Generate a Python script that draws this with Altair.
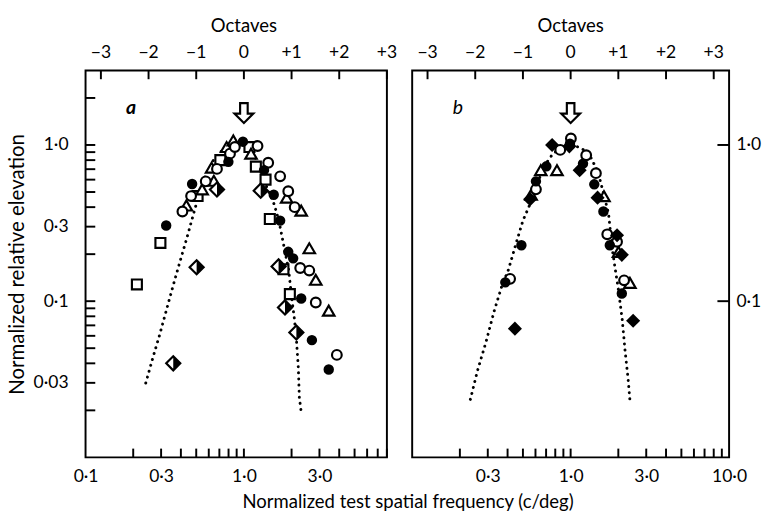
import altair as alt
import pandas as pd

FONT = "Lato"
WA, WB, H = 310, 326, 398
YDOM = [0.01, 3]
XDOM_A = [0.1, 8]
XDOM_B = [0.1, 10]

# ---------------- Panel a data ----------------
a_fc_x = [0.323, 0.471, 0.798, 0.986, 1.34, 1.543, 1.694, 1.906, 2.047, 2.301, 2.688, 3.434]
a_fc_y = [0.305, 0.563, 0.78, 1.05, 0.69, 0.48, 0.328, 0.207, 0.188, 0.104, 0.0563, 0.0365]
a_oc_x = [0.409, 0.464, 0.574, 0.676, 0.817, 0.877, 1.219, 1.424, 1.694, 1.906, 2.093, 2.268, 2.588, 2.844, 3.864]
a_oc_y = [0.375, 0.471, 0.585, 0.703, 0.88, 0.97, 0.985, 0.77, 0.63, 0.506, 0.40, 0.163, 0.157, 0.098, 0.0453]
a_ot_x = [0.433, 0.545, 0.646, 0.625, 0.778, 0.857, 1.109, 1.862, 2.301, 2.588, 2.844, 3.434]
a_ot_y = [0.41, 0.52, 0.59, 0.716, 0.97, 1.07, 0.88, 0.46, 0.38, 0.218, 0.137, 0.087]
a_sq_x = [0.211, 0.297, 0.51, 0.71, 1.084, 1.19, 1.37, 1.458, 1.777, 1.951]
a_sq_y = [0.128, 0.236, 0.471, 0.80, 0.97, 0.727, 0.60, 0.336, 0.16, 0.111]
a_hd_x = [0.503, 0.358, 0.676, 1.277, 1.656, 1.818, 2.144]
a_hd_y = [0.165, 0.040, 0.519, 0.51, 0.167, 0.0912, 0.063]
curve_a_x = [0.240, 0.265, 0.293, 0.323, 0.356, 0.394, 0.435, 0.480, 0.522, 0.576, 0.645, 0.743, 0.857, 1.0,
             1.1, 1.2, 1.345, 1.549, 1.663, 1.810, 1.916, 2.0, 2.084, 2.144, 2.207, 2.239, 2.301]
curve_a_y = [0.0299, 0.0428, 0.0604, 0.0866, 0.124, 0.178, 0.251, 0.360, 0.487, 0.649, 0.806, 0.944, 1.0, 1.0,
             0.95, 0.8, 0.585, 0.42, 0.328, 0.212, 0.159, 0.107, 0.077, 0.0577, 0.0373, 0.0242, 0.0195]

# ---------------- Panel b data ----------------
b_fc_x = [0.99, 1.197, 1.41, 1.61, 0.703, 0.604, 0.489, 0.387, 1.767, 2.104]
b_fc_y = [1.02, 0.76, 0.56, 0.375, 0.73, 0.585, 0.228, 0.132, 0.228, 0.112]
b_oc_x = [1.004, 0.86, 1.254, 1.444, 0.604, 0.415, 1.703, 1.963, 2.175]
b_oc_y = [1.1, 0.93, 0.86, 0.66, 0.52, 0.139, 0.268, 0.24, 0.136]
b_ot_x = [1.623, 0.82, 0.648, 0.563, 2.006, 2.367]
b_ot_y = [0.47, 0.69, 0.69, 0.48, 0.207, 0.131]
b_fd_x = [0.982, 0.764, 1.14, 1.479, 0.555, 0.445, 1.963, 2.104, 2.48]
b_fd_y = [0.98, 1.0, 0.69, 0.46, 0.45, 0.0667, 0.264, 0.198, 0.075]
curve_b_x = [0.233, 0.258, 0.293, 0.328, 0.367, 0.405, 0.453, 0.500, 0.601, 0.664, 0.764, 0.881, 1.0,
             1.12, 1.289, 1.485, 1.617, 1.735, 1.835, 1.915, 2.0, 2.114, 2.207, 2.301, 2.367]
curve_b_y = [0.0235, 0.0357, 0.0552, 0.0853, 0.124, 0.159, 0.235, 0.328, 0.506, 0.706, 0.865, 0.98, 1.0,
             0.97, 0.90, 0.676, 0.485, 0.363, 0.212, 0.159, 0.119, 0.077, 0.0478, 0.0323, 0.0232]

# ---------------- axes / ticks ----------------
octave_vals = [0.125, 0.25, 0.5, 1, 2, 4, 8]
octave_text = ["−3", "−2", "−1", "0", "+1", "+2", "+3"]
octave_title = ["Octaves"]
xticks_a = [0.2, 0.3, 0.4, 0.5, 0.6, 0.7, 0.8, 0.9, 1, 2, 3, 4, 5, 6, 7, 8]
xticks_b = [0.2, 0.3, 0.4, 0.5, 0.6, 0.7, 0.8, 0.9, 1, 2, 3, 4, 5, 6, 7, 8, 9]
xlabels_a = [0.1, 0.3, 1, 3]
xlabels_b = [0.3, 1, 3, 10]
yticks_a = [2, 1, 0.9, 0.8, 0.7, 0.6, 0.5, 0.4, 0.3, 0.2, 0.1, 0.09, 0.08, 0.07, 0.06, 0.05, 0.04, 0.03, 0.02]
ylabels_a = [1, 0.3, 0.1, 0.03]
yticks_b = [1, 0.1]
arrow_pos = [1.0]
arrow_val = [1.6]
label_pos_x = [0.194]
label_pos_y = [1.72]

ARROW = "M-0.38,-1L0.38,-1L0.38,0.05L0.95,0.05L0,1L-0.95,0.05L-0.38,0.05Z"
RIGHT_HALF = "M0,-1L1,0L0,1Z"

LBL = 18
ysc = alt.Scale(type="log", domain=YDOM, nice=False)

Y_LEFT = alt.Axis(orient="left", values=ylabels_a, title="Normalized relative elevation",
                  ticks=False, domain=False, grid=False, labelFlush=False,
                  labelOverlap=False,
                  labelExpr="replace(format(datum.value, datum.value < 0.1 ? '.2f' : '.1f'), '.', '·')",
                  labelFont=FONT, labelFontSize=LBL, labelColor="black", labelPadding=18,
                  titleFont=FONT, titleFontSize=21, titleFontWeight="normal",
                  titleColor="black", titlePadding=6)
Y_RIGHT = alt.Axis(orient="right", values=yticks_b, title=None, ticks=False,
                   domain=False, grid=False, labelFlush=False, labelOverlap=False,
                   labelExpr="replace(format(datum.value, '.1f'), '.', '·')",
                   labelFont=FONT, labelFontSize=LBL, labelColor="black", labelPadding=7)


def xaxis(xlabels):
    return alt.Axis(orient="bottom", values=xlabels, title=None, ticks=False,
                    domain=False, grid=False, labelFlush=False, labelOverlap=False,
                    labelExpr="replace(format(datum.value, '.1f'), '.', '·')",
                    labelFont=FONT, labelFontSize=LBL, labelColor="black", labelPadding=11)


class Panel:
    def __init__(self, dom, W, xlabels, yaxis):
        self.dom, self.W = dom, W
        self.xax = xaxis(xlabels)
        self.yax = yaxis

    def X(self, f="x"):
        return alt.X(f + ":Q", scale=alt.Scale(type="log", domain=self.dom, nice=False),
                     axis=self.xax)

    def Y(self, f="y"):
        return alt.Y(f + ":Q", scale=ysc, axis=self.yax)

    def pts(self, xs, ys, shape, size, black):
        d = pd.DataFrame({"x": xs, "y": ys})
        if black:
            m = alt.Chart(d).mark_point(shape=shape, size=size, filled=True,
                                        color="black", opacity=1)
        else:
            m = alt.Chart(d).mark_point(shape=shape, size=size, filled=True,
                                        fill="white", stroke="black",
                                        strokeWidth=2.2, opacity=1)
        return m.encode(x=self.X(), y=self.Y())

    def curve(self, xs, ys):
        d = pd.DataFrame({"x": xs, "y": ys, "o": list(range(len(xs)))})
        return alt.Chart(d).mark_line(color="black", strokeWidth=3, strokeCap="round",
                                      strokeDash=[0.1, 6.2]).encode(
            x=self.X(), y=self.Y(), order="o:Q")

    def frame(self, xticks, yticks, left):
        out = []
        out.append(alt.Chart(pd.DataFrame({"v": xticks})).mark_rule(
            color="black", strokeWidth=2).encode(x=self.X("v"), y=alt.value(H),
                                                 y2=alt.value(H - 9)))
        out.append(alt.Chart(pd.DataFrame({"v": octave_vals})).mark_rule(
            color="black", strokeWidth=2).encode(x=self.X("v"), y=alt.value(0),
                                                 y2=alt.value(9)))
        out.append(alt.Chart(pd.DataFrame({"v": octave_vals, "t": octave_text})).mark_text(
            font=FONT, fontSize=LBL, color="black", baseline="middle").encode(
            x=self.X("v"), y=alt.value(-18), text="t:N"))
        out.append(alt.Chart(pd.DataFrame({"v": [1.0], "t": octave_title})).mark_text(
            font=FONT, fontSize=19, color="black", baseline="middle").encode(
            x=self.X("v"), y=alt.value(-46), text="t:N"))
        if left:
            out.append(alt.Chart(pd.DataFrame({"v": yticks})).mark_rule(
                color="black", strokeWidth=2).encode(y=self.Y("v"), x=alt.value(0),
                                                     x2=alt.value(10)))
        else:
            out.append(alt.Chart(pd.DataFrame({"v": yticks})).mark_rule(
                color="black", strokeWidth=2).encode(y=self.Y("v"), x=alt.value(self.W),
                                                     x2=alt.value(self.W - 12)))
        return out

    def deco(self, letter, weight):
        ar = alt.Chart(pd.DataFrame({"x": arrow_pos, "y": arrow_val})).mark_point(
            shape=ARROW, size=420, filled=True, fill="white", stroke="black",
            strokeWidth=2.2, opacity=1).encode(x=self.X(), y=self.Y())
        tx = alt.Chart(pd.DataFrame({"x": label_pos_x, "y": label_pos_y, "t": [letter]})).mark_text(
            font=FONT, fontSize=20, fontStyle="italic", fontWeight=weight,
            color="black").encode(x=self.X(), y=self.Y(), text="t:N")
        return [ar, tx]


# panel a
pa = Panel(XDOM_A, WA, xlabels_a, Y_LEFT)
la = pa.frame(xticks_a, yticks_a, True)
la += [pa.curve(curve_a_x, curve_a_y),
       pa.pts(a_sq_x, a_sq_y, "square", 105, False),
       pa.pts(a_ot_x, a_ot_y, "triangle-up", 140, False),
       pa.pts(a_hd_x, a_hd_y, "diamond", 210, False),
       pa.pts(a_hd_x, a_hd_y, RIGHT_HALF, 210, True),
       pa.pts(a_oc_x, a_oc_y, "circle", 100, False),
       pa.pts(a_fc_x, a_fc_y, "circle", 115, True)]
la += pa.deco("a", "bold")
panel_a = alt.layer(*la).properties(width=WA, height=H)

# panel b
pb = Panel(XDOM_B, WB, xlabels_b, Y_RIGHT)
lb = pb.frame(xticks_b, yticks_b, False)
lb += [pb.curve(curve_b_x, curve_b_y),
       pb.pts(b_ot_x, b_ot_y, "triangle-up", 140, False),
       pb.pts(b_oc_x, b_oc_y, "circle", 100, False),
       pb.pts(b_fd_x, b_fd_y, "diamond", 210, True),
       pb.pts(b_fc_x, b_fc_y, "circle", 115, True)]
lb += pb.deco("b", "normal")
panel_b = alt.layer(*lb).properties(width=WB, height=H)

chart = alt.hconcat(panel_a, panel_b, spacing=13).properties(
    title=alt.TitleParams("Normalized test spatial frequency (c/deg)", orient="bottom",
                          anchor="middle", font=FONT, fontSize=19, fontWeight="normal",
                          color="black", offset=7, dx=25),
    padding={"left": 5, "top": 9, "right": 5, "bottom": 3},
    background="white",
).configure_view(stroke="black", strokeWidth=2)

chart.save("out.html", embed_options={"renderer": "svg", "actions": False})
